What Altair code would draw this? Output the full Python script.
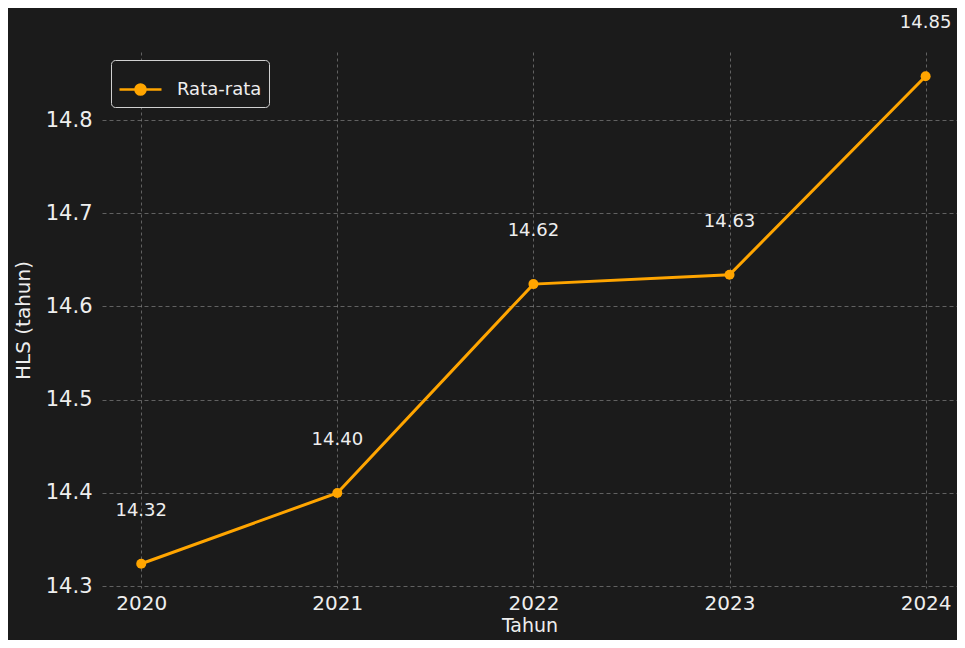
import altair as alt
import pandas as pd

years = [2020, 2021, 2022, 2023, 2024]
values = [14.324, 14.40, 14.624, 14.634, 14.847]
series = ["Rata-rata"] * 5
y_ticks = [14.3, 14.4, 14.5, 14.6, 14.7, 14.8]

df = pd.DataFrame({"Tahun": years, "HLS": values, "Seri": series})

ORANGE = "#FFA500"
BG = "#1b1b1b"
FONT = "DejaVu Sans"

legend_path = ("M-1,0H1M0.24,0A0.24,0.24 0 1 1 -0.24,0"
               "A0.24,0.24 0 1 1 0.24,0Z")

x = alt.X("Tahun:Q",
          scale=alt.Scale(domain=[2019.8, 2024.16], nice=False, zero=False),
          axis=alt.Axis(values=years, format="d", title="Tahun",
                        labelFontSize=20, titleFontSize=19, labelPadding=5,
                        titlePadding=3, gridDash=[3, 3]))
y = alt.Y("HLS:Q",
          scale=alt.Scale(domain=[14.298, 14.873], nice=False, zero=False),
          axis=alt.Axis(values=y_ticks, format=".1f", title="HLS (tahun)",
                        labelFontSize=21, titleFontSize=20, labelPadding=10,
                        titlePadding=12, gridDash=[4, 3]))

line = alt.Chart(df).mark_line(strokeWidth=3).encode(
    x=x, y=y,
    color=alt.Color("Seri:N",
                    scale=alt.Scale(domain=["Rata-rata"], range=[ORANGE]),
                    legend=alt.Legend(title=None, orient="none",
                                      legendX=9, legendY=8,
                                      symbolType=legend_path,
                                      symbolSize=1764,
                                      symbolStrokeWidth=2.5,
                                      symbolFillColor=ORANGE,
                                      symbolStrokeColor=ORANGE,
                                      labelFontSize=18, labelColor="#eeeeee",
                                      labelOffset=14, labelFont=FONT,
                                      padding=7, strokeColor="#d0d0d0",
                                      cornerRadius=4, fillColor=BG)),
)

points = alt.Chart(df).mark_point(filled=True, size=100, opacity=1,
                                  color=ORANGE).encode(x=x, y=y)

labels = alt.Chart(df).mark_text(dy=-53, fontSize=18, color="#eeeeee",
                                 font=FONT).encode(
    x=x, y=y, text=alt.Text("HLS:Q", format=".2f"))

chart = alt.layer(line, points, labels).properties(
    width=855, height=536,
    background=BG,
    padding={"left": 94, "top": 44, "right": 0, "bottom": 52},
    autosize=alt.AutoSizeParams(type="none"),
).configure_view(stroke=None, fill=BG).configure_axis(
    labelColor="#eeeeee", titleColor="#eeeeee", labelFont=FONT,
    titleFont=FONT, titleFontWeight="normal", grid=True,
    gridColor="#9a9a9a", gridOpacity=0.55, gridWidth=1,
    domain=False, ticks=False,
)

chart.save("out.html", embed_options={"renderer": "svg", "actions": False})
